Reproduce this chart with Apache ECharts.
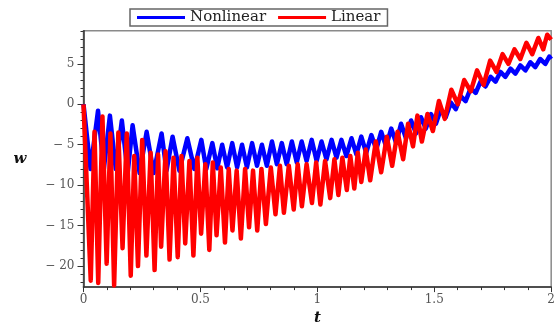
<!DOCTYPE html>
<html>
<head>
<meta charset="utf-8">
<script src="https://cdn.jsdelivr.net/npm/echarts@6/dist/echarts.min.js"></script>
<style>
html,body{margin:0;padding:0;background:#fff;}
#c{width:558px;height:331px;}
</style>
</head>
<body>
<div id="c"></div>
<script>
// ---- data ----
const seriesNames = ['Nonlinear', 'Linear'];
const xTicks = [0, 0.5, 1, 1.5, 2];
const yTicks = [-20, -15, -10, -5, 0, 5];
const yMinorTicks = [-22,-21,-20,-19,-18,-17,-16,-15,-14,-13,-12,-11,-10,-9,-8,-7,-6,-5,-4,-3,-2,-1,0,1,2,3,4,5,6,7,8,9];

const linearT = [0,0.031,0.047,0.063,0.081,0.099,0.115,0.131,0.149,0.167,0.185,0.202,0.217,0.233,0.251,0.269,0.287,0.304,0.319,0.332,0.351,0.368,0.385,0.403,0.419,0.435,0.453,0.470,0.487,0.503,0.521,0.538,0.553,0.569,0.587,0.605,0.621,0.637,0.655,0.673,0.691,0.708,0.725,0.743,0.761,0.780,0.801,0.821,0.840,0.857,0.878,0.899,0.916,0.934,0.954,0.977,0.995,1.013,1.033,1.055,1.073,1.090,1.107,1.126,1.141,1.158,1.173,1.188,1.207,1.226,1.250,1.273,1.297,1.320,1.343,1.367,1.388,1.409,1.428,1.447,1.471,1.494,1.520,1.545,1.573,1.601,1.628,1.656,1.683,1.711,1.739,1.766,1.792,1.817,1.843,1.868,1.894,1.919,1.945,1.966,1.983,2.0];
const linearW = [0,-21.8,-3.4,-22.1,-1.5,-19.7,-3.6,-22.4,-3.5,-17.8,-3.6,-21.2,-6.4,-20.0,-4.4,-18.7,-6.0,-20.5,-6.2,-17.6,-5.8,-19.2,-6.6,-18.9,-6.4,-17.2,-7.0,-18.7,-6.6,-16.0,-7.4,-18.0,-7.2,-16.2,-7.8,-17.1,-8.0,-15.6,-8.2,-16.6,-8.0,-15.2,-8.2,-15.6,-8.0,-14.8,-7.8,-13.6,-7.6,-13.4,-7.6,-13.0,-7.4,-12.6,-7.4,-12.2,-7.2,-12.4,-7.0,-11.6,-6.8,-11.2,-6.6,-10.6,-6.4,-10.4,-6.0,-9.6,-5.6,-9.4,-4.6,-8.4,-4.0,-7.6,-3.4,-6.8,-2.4,-5.2,-1.4,-4.6,-1.2,-3.3,0.4,-1.8,1.8,0.0,3.0,1.6,4.2,2.4,5.4,4.0,6.2,5.0,6.8,5.6,7.6,6.2,8.2,6.8,8.6,8.0];

const nonlinearT = [0,0.03,0.062,0.087,0.113,0.138,0.164,0.189,0.210,0.240,0.270,0.300,0.334,0.355,0.381,0.410,0.444,0.474,0.504,0.525,0.551,0.572,0.593,0.614,0.636,0.657,0.678,0.699,0.721,0.742,0.763,0.784,0.806,0.827,0.848,0.869,0.891,0.912,0.933,0.954,0.976,0.997,1.018,1.039,1.061,1.082,1.103,1.124,1.146,1.167,1.188,1.209,1.231,1.252,1.273,1.294,1.316,1.337,1.358,1.379,1.401,1.422,1.443,1.464,1.486,1.507,1.528,1.549,1.571,1.592,1.613,1.634,1.656,1.677,1.698,1.719,1.741,1.762,1.783,1.804,1.826,1.847,1.868,1.890,1.911,1.932,1.953,1.975,1.992,2.0];
const nonlinearW = [0,-8,-0.8,-8,-1.4,-8,-2.0,-8.5,-2.6,-8.5,-3.4,-8.5,-3.6,-8.2,-4.0,-8.2,-4.2,-8.0,-4.4,-8.0,-4.8,-7.9,-5.0,-7.8,-4.8,-7.8,-5.0,-7.8,-4.8,-7.6,-5.0,-7.6,-4.6,-7.4,-4.8,-7.4,-4.6,-7.2,-4.6,-7.0,-4.4,-7.0,-4.6,-6.8,-4.4,-6.6,-4.4,-6.4,-4.2,-6.2,-4.0,-6.0,-3.8,-5.6,-3.4,-5.2,-3.0,-4.8,-2.4,-4.2,-2.0,-3.6,-1.6,-3.0,-1.2,-2.4,-0.6,-1.6,0.2,-0.6,1.0,0.4,2.0,1.4,2.8,2.2,3.4,2.8,4.0,3.4,4.4,3.8,4.8,4.2,5.2,4.6,5.6,5.0,5.9,5.6];

// ---- chart ----
const chart = echarts.init(document.getElementById('c'), null, {renderer: 'canvas'});
const serif = 'DejaVu Serif';
const minus = v => v < 0 ? '\u2212 ' + Math.abs(v) : String(v);
const Y_MIN = -22.6, Y_MAX = 9.1;

chart.setOption({
  animation: false,
  backgroundColor: '#fff',
  grid: {left: 83.5, right: 4, top: 30.7, bottom: 37.7, show: true, borderColor: '#8a8a8a', borderWidth: 1.5, backgroundColor: 'transparent'},
  legend: {
    left: 130, top: 9,
    padding: [1, 7, 1, 7],
    borderColor: '#666', borderWidth: 1.5,
    itemWidth: 48, itemHeight: 3, itemGap: 12,
    icon: 'rect',
    textStyle: {fontFamily: serif, fontSize: 15, color: '#222'},
    data: seriesNames
  },
  xAxis: {
    type: 'value', min: 0, max: 2, interval: 0.5,
    name: 't', nameLocation: 'middle', nameGap: 20,
    nameTextStyle: {fontFamily: serif, fontStyle: 'italic', fontWeight: 'bold', fontSize: 15, color: '#111'},
    axisLine: {show: true, onZero: false, lineStyle: {color: '#333', width: 1.5}},
    axisTick: {show: true, length: 5, lineStyle: {color: '#333'}},
    minorTick: {show: true, splitNumber: 5, length: 3, lineStyle: {color: '#333'}},
    axisLabel: {color: '#555', fontFamily: serif, fontSize: 12, margin: 7,
      customValues: xTicks},
    splitLine: {show: false}
  },
  yAxis: [{
    type: 'value', min: Y_MIN, max: Y_MAX,
    name: 'w', nameLocation: 'middle', nameRotate: 0, nameGap: 57,
    nameTextStyle: {fontFamily: serif, fontStyle: 'italic', fontWeight: 'bold', fontSize: 15, color: '#111'},
    axisLine: {show: true, onZero: false, lineStyle: {color: '#333', width: 1.5}},
    axisTick: {show: true, length: 6, customValues: yTicks, lineStyle: {color: '#333'}},
    axisLabel: {color: '#555', fontFamily: serif, fontSize: 12, margin: 9,
      customValues: yTicks, formatter: minus},
    splitLine: {show: false}
  }, {
    type: 'value', min: Y_MIN, max: Y_MAX, position: 'left',
    axisLine: {show: false, onZero: false},
    axisTick: {show: true, length: 3, customValues: yMinorTicks, lineStyle: {color: '#333'}},
    axisLabel: {show: false},
    splitLine: {show: false}
  }],
  series: [{
    name: seriesNames[0], type: 'line', yAxisIndex: 0,
    showSymbol: false, symbol: 'none',
    color: '#0000ff',
    lineStyle: {width: 4.5, color: '#0000ff', join: 'round'},
    data: nonlinearT.map((t, i) => [t, nonlinearW[i]]),
    z: 2
  }, {
    name: seriesNames[1], type: 'line', yAxisIndex: 0,
    showSymbol: false, symbol: 'none',
    color: '#ff0000',
    lineStyle: {width: 4.5, color: '#ff0000', join: 'round'},
    data: linearT.map((t, i) => [t, linearW[i]]),
    z: 3
  }]
});
</script>
</body>
</html>
